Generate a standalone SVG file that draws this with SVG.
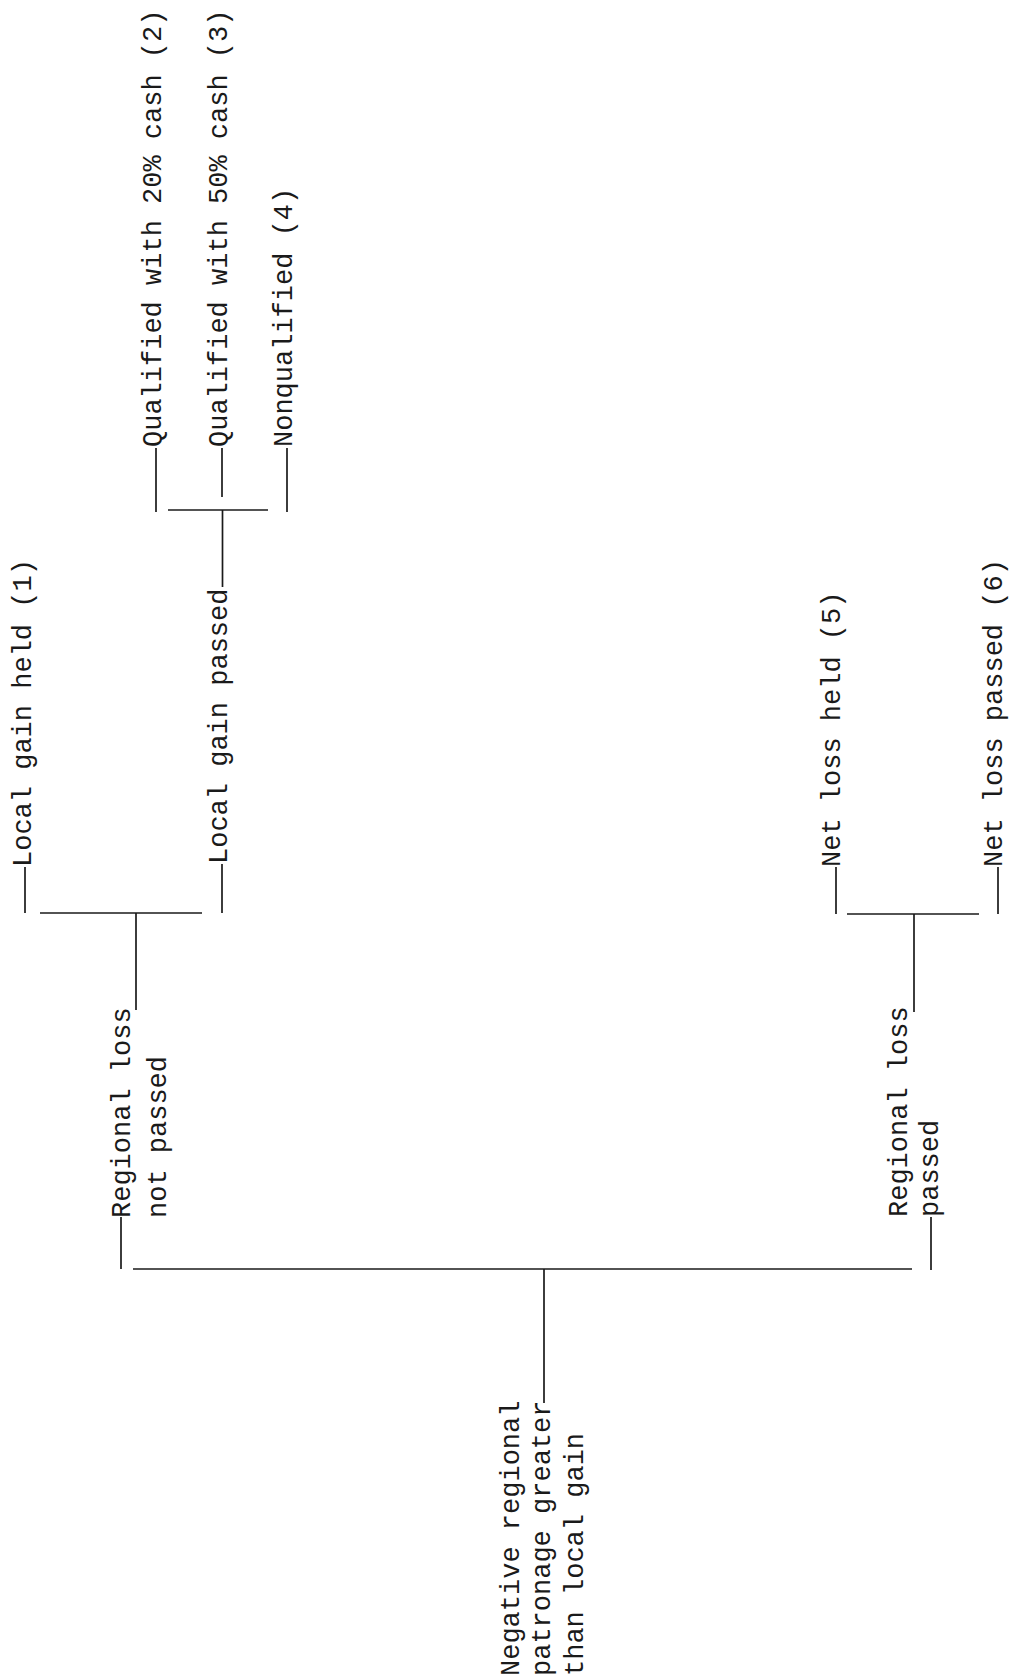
<svg xmlns="http://www.w3.org/2000/svg" width="1017" height="1677" viewBox="0 0 1017 1677">
<style>
  .t { font-family: "Liberation Mono", "DejaVu Sans Mono", monospace; font-size: 27px; fill: #1a1a1a; }
  .c line { stroke: #1a1a1a; stroke-width: 1.7; stroke-linecap: butt; }
</style>
<rect x="0" y="0" width="1017" height="1677" fill="#ffffff"/>

<g id="connectors" class="c">
  <!-- main bar and root stem -->
  <line x1="133" y1="1269" x2="912" y2="1269"/>
  <line x1="544" y1="1269" x2="544" y2="1403"/>
  <!-- dash to Regional loss not passed -->
  <line x1="121" y1="1217" x2="121" y2="1269"/>
  <!-- dash to Regional loss passed -->
  <line x1="931" y1="1217" x2="931" y2="1270"/>
  <!-- left upper fork -->
  <line x1="136" y1="913" x2="136" y2="1010"/>
  <line x1="40" y1="913" x2="202" y2="913"/>
  <line x1="25" y1="867" x2="25" y2="913"/>
  <line x1="222" y1="864" x2="222" y2="913"/>
  <!-- qualified fork -->
  <line x1="222.5" y1="510" x2="222.5" y2="587"/>
  <line x1="168" y1="510" x2="268" y2="510"/>
  <line x1="156" y1="448" x2="156" y2="512"/>
  <line x1="222" y1="448" x2="222" y2="497"/>
  <line x1="287" y1="448" x2="287" y2="512"/>
  <!-- net loss fork -->
  <line x1="914" y1="914" x2="914" y2="1012"/>
  <line x1="847" y1="914" x2="979" y2="914"/>
  <line x1="836" y1="867" x2="836" y2="914"/>
  <line x1="998" y1="867" x2="998" y2="914"/>
</g>

<g id="root">
  <text class="t" transform="translate(519,1676) rotate(-90)"><tspan x="0" y="0">Negative regional</tspan><tspan x="0" y="31">patronage greater</tspan><tspan x="0" y="64">than local gain</tspan></text>
</g>

<g id="regional-loss-not-passed">
  <text class="t" transform="translate(130,1218) rotate(-90)"><tspan x="0" y="0">Regional loss</tspan><tspan x="0" y="36">not passed</tspan></text>
</g>

<g id="regional-loss-passed">
  <text class="t" transform="translate(907,1217) rotate(-90)"><tspan x="0" y="0">Regional loss</tspan><tspan x="0" y="31">passed</tspan></text>
</g>

<g id="local-gain-held">
  <text class="t" transform="translate(31,867) rotate(-90)">Local gain held (1)</text>
</g>

<g id="local-gain-passed">
  <text class="t" transform="translate(227,864) rotate(-90)">Local gain passed</text>
</g>

<g id="qualified-20">
  <text class="t" transform="translate(161,447) rotate(-90)">Qualified with 20% cash (2)</text>
</g>

<g id="qualified-50">
  <text class="t" transform="translate(227,447) rotate(-90)">Qualified with 50% cash (3)</text>
</g>

<g id="nonqualified">
  <text class="t" transform="translate(292,447) rotate(-90)">Nonqualified (4)</text>
</g>

<g id="net-loss-held">
  <text class="t" transform="translate(840,867) rotate(-90)">Net loss held (5)</text>
</g>

<g id="net-loss-passed">
  <text class="t" transform="translate(1002,867) rotate(-90)">Net loss passed (6)</text>
</g>
</svg>
